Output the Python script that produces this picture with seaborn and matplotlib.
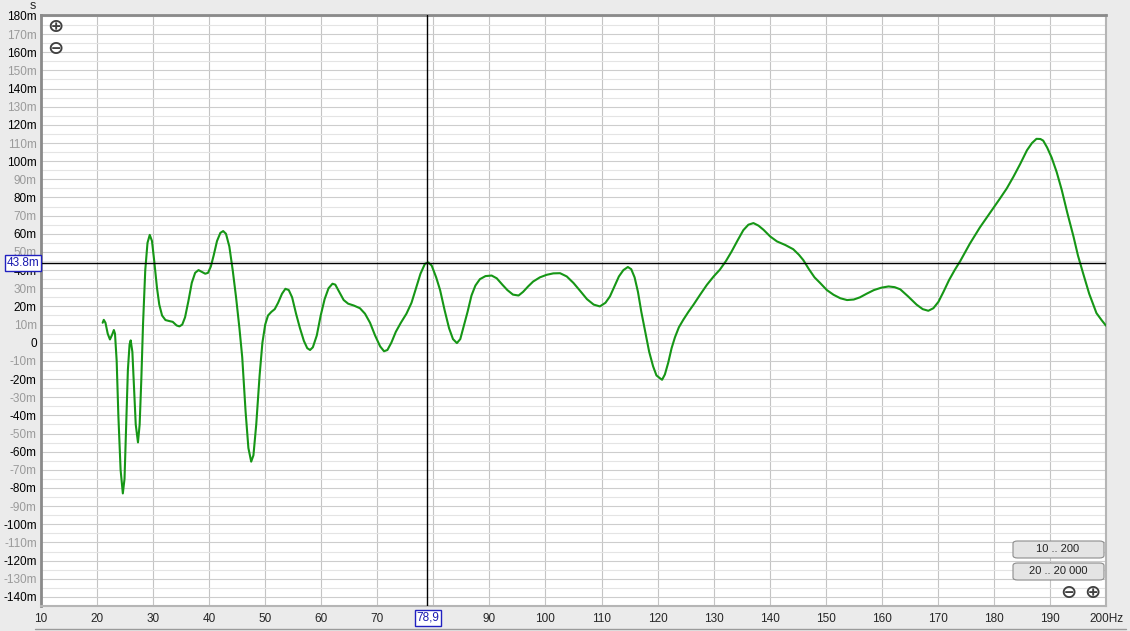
import numpy as np
import pandas as pd
import matplotlib
matplotlib.use("Agg")
import matplotlib.pyplot as plt
from matplotlib.patches import FancyBboxPatch
import seaborn as sns

# group delay curve (Hz, milliseconds)
freq = [21.0, 21.2, 21.5, 21.9, 22.3, 22.7, 23.0, 23.2, 23.5, 23.8, 24.2, 24.6,
        24.9, 25.2, 25.5, 25.8, 26.0, 26.3, 26.6, 26.9, 27.3, 27.6, 27.9, 28.2,
        28.6, 29.0, 29.4, 29.8, 30.2, 30.7, 31.1, 31.6, 32.2, 32.8, 33.5, 34.2,
        34.7, 35.2, 35.7, 36.3, 36.9, 37.5, 38.1, 38.7, 39.3, 39.8, 40.3, 40.8,
        41.4, 42.0, 42.5, 43.0, 43.6, 44.2, 44.8, 45.4, 45.9, 46.5, 47.0, 47.5,
        47.9, 48.4, 49.0, 49.5, 50.0, 50.5, 51.1, 51.7, 52.3, 53.0, 53.6, 54.2,
        54.8, 55.5, 56.2, 56.9, 57.5, 58.0, 58.5, 59.2, 59.9, 60.6, 61.3, 62.0,
        62.5, 63.2, 64.0, 64.8, 65.8, 66.9, 67.8, 68.7, 69.6, 70.5, 71.2, 71.8,
        72.5, 73.3, 74.2, 75.2, 76.1, 76.9, 77.7, 78.5, 79.1, 79.7, 80.5, 81.2,
        82.0, 82.8, 83.5, 84.2, 84.8, 85.4, 86.1, 86.8, 87.5, 88.3, 89.3, 90.4,
        91.3, 92.3, 93.2, 94.2, 95.2, 96.0, 96.9, 97.8, 99.0, 100.2, 101.4, 102.6,
        103.8, 105.0, 106.2, 107.4, 108.6, 109.7, 110.7, 111.5, 112.3, 113.1,
        113.9, 114.7, 115.3, 115.9, 116.5, 117.1, 117.8, 118.5, 119.2, 119.8,
        120.4, 120.8, 121.3, 121.9, 122.5, 123.1, 123.8, 124.6, 125.5, 126.4,
        127.6, 128.8, 130.0, 131.1, 132.2, 133.2, 134.3, 135.3, 136.2, 137.1,
        138.0, 138.9, 140.1, 141.3, 142.8, 144.2, 145.2, 146.0, 147.0, 148.0,
        149.0, 150.2, 151.4, 152.6, 153.8, 155.0, 156.1, 157.3, 158.6, 159.9,
        161.2, 162.3, 163.3, 164.7, 166.2, 167.3, 168.3, 169.2, 170.1, 171.0,
        172.0, 173.0, 174.0, 175.7, 177.5, 179.3, 181.1, 182.3, 183.5, 184.7,
        185.9, 186.8, 187.6, 188.3, 188.8, 189.5, 190.3, 191.2, 192.1, 193.1,
        194.2, 195.0, 195.9, 197.0, 198.3, 199.2, 200.0]
delay = [11.0, 12.6, 11.0, 5.0, 1.8, 4.5, 7.0, 5.0, -10.0, -40.0, -70.0, -83.0,
         -75.0, -45.0, -15.0, -1.0, 1.3, -5.0, -25.0, -45.0, -54.9, -45.0, -20.0, 10.0,
         40.0, 55.0, 59.4, 56.0, 45.0, 30.0, 21.0, 15.0, 12.5, 12.0, 11.5, 9.5,
         9.0, 10.0, 14.0, 23.0, 33.0, 38.5, 40.0, 39.0, 38.0, 38.5, 42.0, 48.0,
         56.0, 60.5, 61.5, 60.0, 53.0, 40.0, 25.0, 8.0, -8.0, -38.0, -58.0, -65.5,
         -62.0, -45.0, -18.0, 0.0, 10.0, 15.0, 17.0, 18.5, 22.0, 27.0, 29.7, 29.0,
         25.0, 16.0, 8.0, 1.0, -3.0, -4.0, -2.5, 4.0, 15.0, 24.0, 30.0, 32.5,
         32.0, 28.0, 23.5, 21.5, 20.5, 19.0, 16.0, 11.0, 4.0, -2.0, -4.7, -4.0,
         0.0, 6.0, 11.0, 16.0, 22.0, 30.0, 38.0, 43.5, 44.2, 42.5, 36.0, 29.0,
         18.0, 8.0, 2.0, -0.2, 2.0, 9.0, 17.0, 26.0, 31.5, 35.0, 36.7, 37.0,
         35.5, 32.0, 29.0, 26.5, 26.0, 28.0, 31.0, 33.7, 36.0, 37.4, 38.2, 38.3,
         36.5, 32.9, 28.5, 24.0, 21.0, 20.0, 22.0, 25.5, 31.0, 36.5,
         40.0, 41.7, 40.5, 36.0, 28.0, 17.0, 6.0, -5.0, -13.0, -18.0,
         -19.5, -20.4, -17.5, -11.0, -3.0, 3.0, 8.5, 12.7, 17.0, 20.9,
         26.5, 31.9, 36.5, 40.2, 45.0, 50.2, 56.5, 62.0, 65.0, 65.9,
         64.5, 62.2, 58.5, 55.8, 53.8, 51.5, 48.5, 45.5, 40.5, 36.0,
         32.9, 29.0, 26.4, 24.5, 23.5, 23.8, 25.0, 27.0, 29.0, 30.3,
         31.0, 30.6, 29.4, 25.5, 21.0, 18.5, 17.6, 19.0, 22.5, 28.0,
         34.5, 40.0, 45.0, 54.5, 63.5, 71.5, 79.5, 85.0, 91.5, 98.5,
         106.0, 110.0, 112.3, 112.2, 111.3, 107.5, 102.0, 94.0, 84.2, 71.5,
         58.5, 48.0, 38.4, 27.0, 16.3, 12.5, 9.4]

cursor_x = 78.9
cursor_y = 43.8
y_ticks = list(range(-140, 190, 10))
x_ticks = list(range(10, 210, 10))
# the 80 label sits under the cursor readout, so it is not shown
x_labels = [str(v) if v != 80 else "" for v in x_ticks[:-1]] + ["200Hz"]

W, H = 1130, 631


def px(x, y):
    return x / W, 1 - y / H


sns.set_style("white")
plt.rcParams["font.family"] = ["Liberation Sans", "DejaVu Sans"]

fig = plt.figure(figsize=(W / 100, H / 100), dpi=100, facecolor="#ebebeb")
ax = fig.add_axes([41 / W, 1 - 606 / H, 1065 / W, 591 / H])
ax.set_facecolor("white")

df = pd.DataFrame({"freq": freq, "delay": delay})
sns.lineplot(data=df, x="freq", y="delay", ax=ax, color="#169616",
             linewidth=1.5, sort=False, zorder=4)

ax.set_xlim(10, 200)
ax.set_ylim(-144.7, 180.5)
ax.set_xlabel("")
ax.set_ylabel("")

# grid
ax.set_yticks(y_ticks)
ax.set_yticks(np.arange(-145, 181, 5), minor=True)
ax.set_xticks(x_ticks)
ax.grid(which="minor", axis="y", color="#e4e4e4", linewidth=0.8, zorder=0)
ax.grid(which="major", axis="y", color="#cdcdcd", linewidth=0.8, zorder=0)
ax.grid(which="major", axis="x", color="#c4c4c4", linewidth=0.8, zorder=0)
ax.tick_params(which="both", length=0)

ax.set_yticklabels(["0" if v == 0 else f"{v}m" for v in y_ticks], fontsize=8.5)
for v, lab in zip(y_ticks, ax.get_yticklabels()):
    lab.set_color("black" if v % 20 == 0 else "#9a9a9a")
ax.tick_params(axis="y", pad=3)
ax.set_xticklabels(x_labels, fontsize=8.5)
ax.tick_params(axis="x", pad=5)

for side in ["left", "top"]:
    ax.spines[side].set_color("#8a8a8a")
    ax.spines[side].set_linewidth(2)
for side in ["right", "bottom"]:
    ax.spines[side].set_color("#b5b5b5")
    ax.spines[side].set_linewidth(1.5)

# crosshair
ax.axvline(cursor_x, color="black", linewidth=1, zorder=5)
ax.axhline(cursor_y, color="black", linewidth=1, zorder=5)
box = dict(boxstyle="square,pad=0.15", facecolor="white", edgecolor="#2020c0", linewidth=1)
fig.text(*px(23, 263), f"{cursor_y}m", ha="center", va="center", fontsize=8.5,
         color="#1a1ab0", bbox=box, zorder=10)
fig.text(*px(428, 618), "78,9", ha="center", va="center", fontsize=8.5,
         color="#1a1ab0", bbox=box, zorder=10)

fig.text(*px(33, 6), "s", ha="center", va="center", fontsize=9)

# zoom icons
for (x, y, sym) in [(55, 27, "⊕"), (55, 49, "⊖"), (1068, 593, "⊖"), (1092, 593, "⊕")]:
    fig.text(*px(x, y), sym, ha="center", va="center", fontsize=14,
             color="#404040", fontweight="bold", family="DejaVu Sans", zorder=10)

# range buttons
for (y0, label) in [(541, "10 .. 200"), (563, "20 .. 20 000")]:
    x0, y1 = px(1013, y0 + 17)
    btn = FancyBboxPatch((x0, y1), 91 / W, 17 / H, transform=fig.transFigure,
                         boxstyle="round,pad=0,rounding_size=0.004",
                         facecolor="#e4e4e4", edgecolor="#8c8c8c", linewidth=0.8,
                         zorder=9)
    fig.patches.append(btn)
    fig.text(*px(1058, y0 + 8.5), label, ha="center", va="center", fontsize=8,
             color="#222222", zorder=10)

fig.add_artist(plt.Line2D([35 / W, 1 - 4 / W], [1 - 629 / H] * 2,
                          transform=fig.transFigure, color="#9a9a9a", linewidth=1))

fig.savefig("out.png", dpi=100, facecolor=fig.get_facecolor())
